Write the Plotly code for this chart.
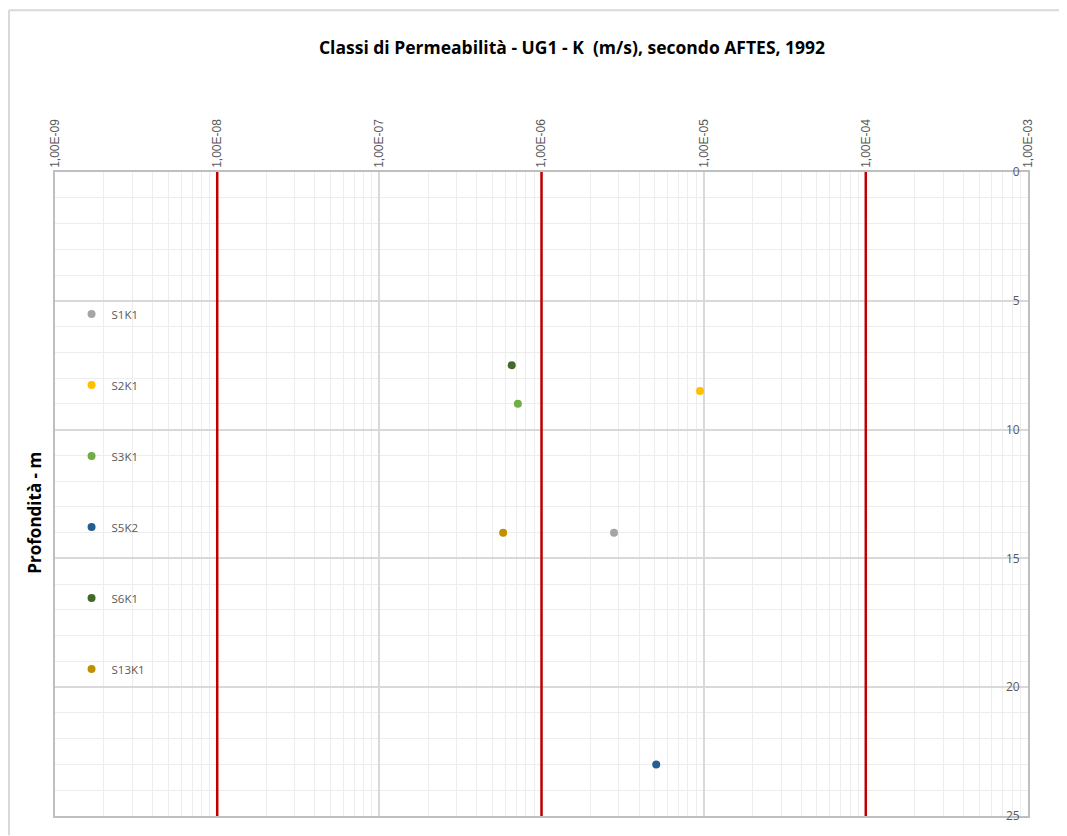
import plotly.graph_objects as go

# ---- data ----
sample_names = ["S1K1", "S2K1", "S3K1", "S5K2", "S6K1", "S13K1"]
permeability_k = [2.80e-6, 9.5e-6, 7.15e-7, 5.1e-6, 6.55e-7, 5.8e-7]
depth_m = [14.0, 8.5, 9.0, 23.0, 7.5, 14.0]
sample_colors = ["#A5A5A5", "#FFC000", "#70AD47", "#255E91", "#43682B", "#BF9000"]

class_limits = [1e-8, 1e-6, 1e-4]
x_tick_vals = [1e-9, 1e-8, 1e-7, 1e-6, 1e-5, 1e-4, 1e-3]
x_tick_text = ["1,00E-09", "1,00E-08", "1,00E-07", "1,00E-06", "1,00E-05", "1,00E-04", "1,00E-03"]
y_tick_vals = [0, 5, 10, 15, 20, 25]

fig = go.Figure()

# class limit lines (red)
for lim in class_limits:
    fig.add_trace(go.Scatter(
        x=[lim, lim], y=[0, 25], mode="lines",
        line=dict(color="#C00000", width=2.5),
        showlegend=False, hoverinfo="skip",
    ))

for n, k, d, c in zip(sample_names, permeability_k, depth_m, sample_colors):
    fig.add_trace(go.Scatter(
        x=[k], y=[d], mode="markers", name=n,
        marker=dict(color=c, size=8),
        legendgroup=n,
    ))

fig.update_layout(
    width=1059, height=828,
    paper_bgcolor="white", plot_bgcolor="white",
    margin=dict(l=47, r=39, t=164, b=13),
    title=dict(
        text="<b>Classi di Permeabilità - UG1 - K  (m/s), secondo AFTES, 1992</b>",
        x=0.5326, xanchor="center", y=0.952, yanchor="middle",
        font=dict(family="Open Sans", size=17.5, color="#000000"),
    ),
    font=dict(family="Liberation Sans", color="#595959"),
    showlegend=True,
    legend=dict(
        x=0.017, xanchor="left", y=0.802, yanchor="top",
        bgcolor="rgba(0,0,0,0)", traceorder="grouped",
        tracegroupgap=52, itemwidth=30,
        font=dict(family="Open Sans", size=11.5, color="#595959"),
    ),
)

fig.update_xaxes(
    type="log", range=[-9.0005, -2.9995], side="top",
    tickvals=x_tick_vals, ticktext=x_tick_text, tickangle=-90,
    tickfont=dict(family="Liberation Sans", size=12, color="#595959"),
    ticklabeloverflow="allow",
    showgrid=True, gridcolor="#D9D9D9", gridwidth=1.5,
    minor=dict(dtick="D1", showgrid=True, gridcolor="#EDEDED", gridwidth=1.2),
    showline=True, linecolor="#BFBFBF", linewidth=1.5, mirror=True,
    ticks="", zeroline=False,
)
fig.update_yaxes(
    range=[25, 0], side="right",
    tickvals=y_tick_vals, ticklabelposition="inside",
    ticklabeloverflow="allow", ticklabelstandoff=8,
    tickfont=dict(family="Open Sans", size=12, color="#595959"),
    showgrid=True, gridcolor="#D9D9D9", gridwidth=1.5,
    minor=dict(dtick=1, showgrid=True, gridcolor="#EDEDED", gridwidth=1.2),
    showline=True, linecolor="#BFBFBF", linewidth=1.5, mirror=True,
    ticks="", zeroline=False,
)

# y axis title on the left
fig.add_annotation(
    text="<b>Profondità - m</b>", textangle=-90,
    xref="paper", yref="paper", x=-0.0206, y=0.471,
    xanchor="center", yanchor="middle", showarrow=False,
    font=dict(family="Open Sans", size=17, color="#000000"),
)

# chart area border (top and left edges visible)
fig.add_shape(type="line", xref="paper", yref="paper",
              x0=-0.0473, x1=1.045, y0=1.2512, y1=1.2512,
              line=dict(color="#D9D9D9", width=2))
fig.add_shape(type="line", xref="paper", yref="paper",
              x0=-0.0473, x1=-0.0473, y0=1.2512, y1=-0.03,
              line=dict(color="#D9D9D9", width=2))

fig.write_html("out.html")
